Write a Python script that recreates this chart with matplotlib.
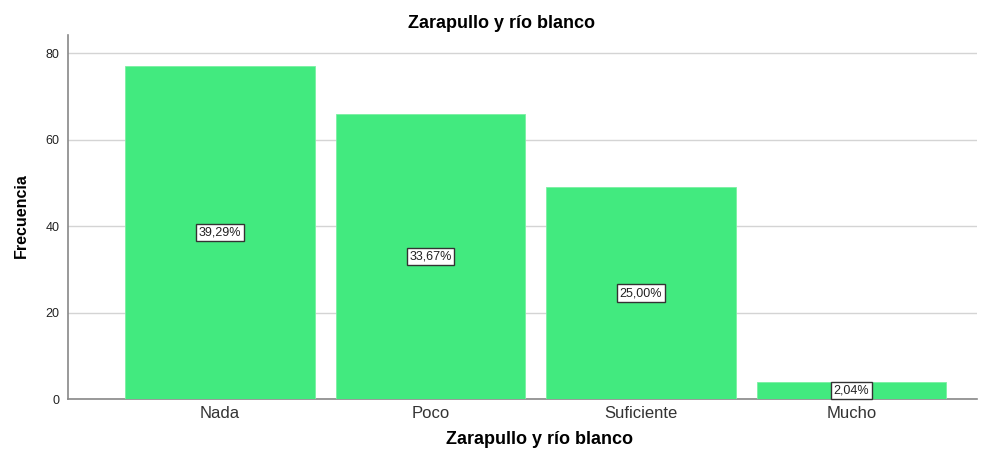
import matplotlib
matplotlib.use('Agg')
import matplotlib.pyplot as plt

categories = ['Nada', 'Poco', 'Suficiente', 'Mucho']
counts = [77, 66, 49, 4]
pct_labels = ['39,29%', '33,67%', '25,00%', '2,04%']
y_ticks = [0, 20, 40, 60, 80]
title = 'Zarapullo y río blanco'

plt.rcParams['font.family'] = ['Liberation Sans', 'DejaVu Sans']

W, H = 991, 451
fig = plt.figure(figsize=(W / 100, H / 100), dpi=100)
ax = fig.add_axes([68 / W, 1 - 399 / H, (977 - 68) / W, (399 - 35) / H])

x = list(range(len(categories)))
ax.bar(x, counts, width=0.9, color='#42EA7F', edgecolor='#7AF0A2', linewidth=0.6, zorder=3)

# percentage boxes in the middle of each bar
for xi, c, lab in zip(x, counts, pct_labels):
    ax.text(xi, c / 2, lab, ha='center', va='center', fontsize=9, color='#222222', zorder=4,
            bbox=dict(boxstyle='square,pad=0.22', facecolor='white', edgecolor='#333333', linewidth=1))

ax.set_xlim(-0.722, 3.596)
ax.set_ylim(0, 84.2)
ax.set_yticks(y_ticks)
ax.set_xticks(x)
ax.set_xticklabels(categories, fontsize=12, color='#333333')
ax.tick_params(axis='y', labelsize=9, length=0, pad=6, labelcolor='#222222')
ax.tick_params(axis='x', length=0, pad=5)
ax.grid(axis='y', color='#d4d4d4', linewidth=1, zorder=0)

for s in ['top', 'right']:
    ax.spines[s].set_visible(False)
for s in ['left', 'bottom']:
    ax.spines[s].set_color('#888888')
    ax.spines[s].set_linewidth(1.2)

fig.text(501 / W, 1 - 24 / H, title, ha='center', va='center', fontsize=13, fontweight='bold')
fig.text(540 / W, 1 - 440 / H, title, ha='center', va='center', fontsize=13, fontweight='bold')
fig.text(21 / W, 1 - 216 / H, 'Frecuencia', ha='center', va='center', rotation=90,
         fontsize=11.5, fontweight='bold')

fig.savefig('out.png', dpi=100)
